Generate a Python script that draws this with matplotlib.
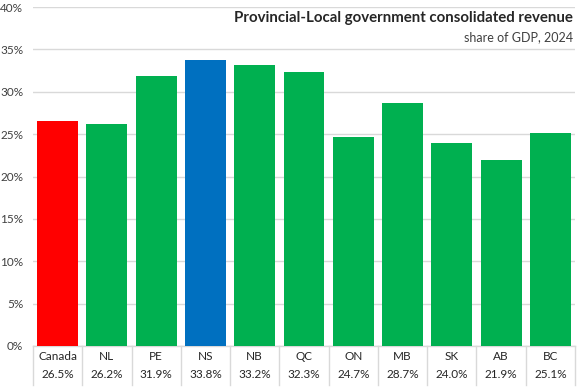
import matplotlib
matplotlib.use("Agg")
import matplotlib.pyplot as plt
from matplotlib.transforms import blended_transform_factory

categories = ["Canada", "NL", "PE", "NS", "NB", "QC", "ON", "MB", "SK", "AB", "BC"]
values = [26.5, 26.2, 31.9, 33.8, 33.2, 32.3, 24.7, 28.7, 24.0, 21.9, 25.1]
colors = ["#FF0000", "#00B050", "#00B050", "#0070C0", "#00B050", "#00B050",
          "#00B050", "#00B050", "#00B050", "#00B050", "#00B050"]
yticks = [0, 5, 10, 15, 20, 25, 30, 35, 40]
title = "Provincial-Local government consolidated revenue"
subtitle = "share of GDP, 2024"

plt.rcParams['font.family'] = ['Lato', 'DejaVu Sans']

W, H = 577, 387
fig = plt.figure(figsize=(W / 100, H / 100), dpi=100)
left, right, top, bottom = 33, 575, 7, 346
ax = fig.add_axes([left / W, 1 - bottom / H, (right - left) / W, (bottom - top) / H])

x = list(range(len(categories)))
ax.bar(x, values, width=0.83, color=colors, zorder=3)
ax.set_xlim(-0.5, len(categories) - 0.5)
ax.set_ylim(0, 40)
ax.set_yticks(yticks)
ax.set_yticklabels([f"{v}%" for v in yticks], fontsize=8.5, color="#404040")
ax.tick_params(axis='y', length=0, pad=7)
ax.set_xticks([])
ax.grid(axis='y', color="#D9D9D9", linewidth=1, zorder=0)
for s in ax.spines.values():
    s.set_visible(False)

tr = blended_transform_factory(ax.transData, ax.transAxes)
ph = bottom - top
lo = -(385 - bottom) / ph
for i in range(len(categories) + 1):
    ax.plot([i - 0.5, i - 0.5], [0, lo], transform=tr, color="#D9D9D9",
            linewidth=1, clip_on=False)
ax.plot([-0.5, len(categories) - 0.5], [0, 0], transform=tr, color="#D9D9D9",
        linewidth=1, clip_on=False)
for i, (c, v) in enumerate(zip(categories, values)):
    ax.text(i, -(356 - bottom) / ph, c, transform=tr, ha='center', va='center',
            fontsize=8.5, color="#262626")
    ax.text(i, -(374 - bottom) / ph, f"{v:.1f}%", transform=tr, ha='center',
            va='center', fontsize=8.5, color="#262626")

ax.text(1 - 2 / (right - left), 1 - (18 - top) / ph, title, transform=ax.transAxes,
        ha='right', va='center', fontsize=10.8, fontweight='bold', color="#262626")
ax.text(1 - 2 / (right - left), 1 - (37 - top) / ph, subtitle, transform=ax.transAxes,
        ha='right', va='center', fontsize=9, color="#404040")

fig.savefig("out.png", dpi=100)
